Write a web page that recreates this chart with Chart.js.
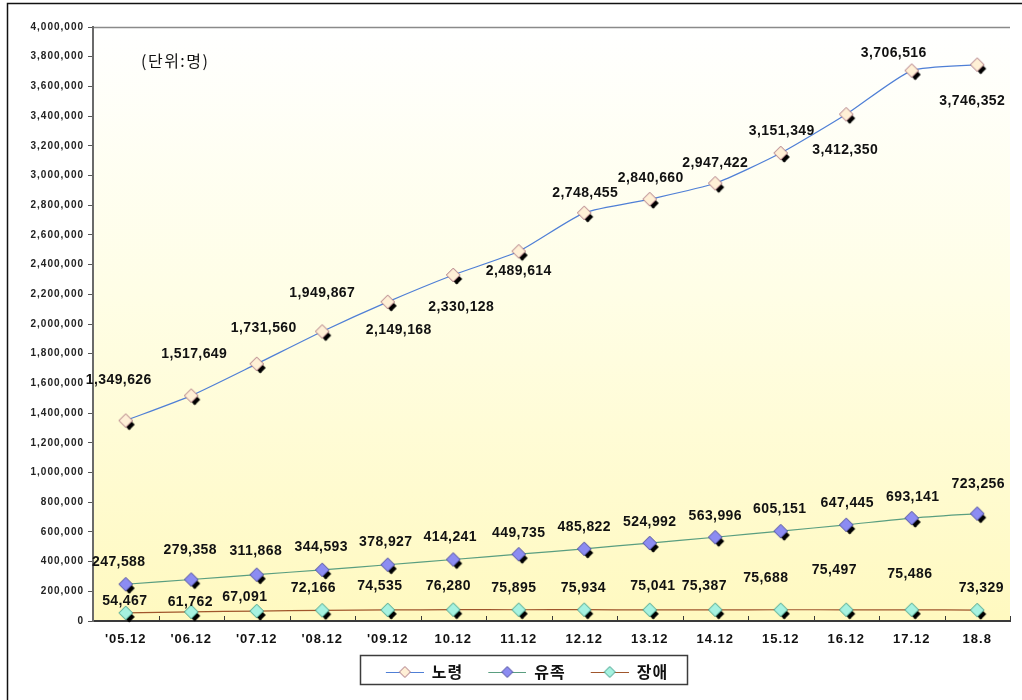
<!DOCTYPE html>
<html>
<head>
<meta charset="utf-8">
<script src="https://cdn.jsdelivr.net/npm/chart.js@4.4.1/dist/chart.umd.min.js"></script>
<style>
  html, body { margin: 0; padding: 0; background: #ffffff; }
  #wrap { position: relative; width: 1022px; height: 700px; }
</style>
</head>
<body>
<div id="wrap"><canvas id="c" width="1022" height="700"></canvas></div>
<script>
// ---- data ----
const categories = ["'05.12", "'06.12", "'07.12", "'08.12", "'09.12", "10.12", "11.12",
                    "12.12", "13.12", "14.12", "15.12", "16.12", "17.12", "18.8"];
const seriesNames = ['노령', '유족', '장애'];
const elderly   = [1349626, 1517649, 1731560, 1949867, 2149168, 2330128, 2489614,
                   2748455, 2840660, 2947422, 3151349, 3412350, 3706516, 3746352];
const survivor  = [247588, 279358, 311868, 344593, 378927, 414241, 449735,
                   485822, 524992, 563996, 605151, 647445, 693141, 723256];
const disability = [54467, 61762, 67091, 72166, 74535, 76280, 75895,
                    75934, 75041, 75387, 75688, 75497, 75486, 73329];
const yTickLabels = ['0', '200,000', '400,000', '600,000', '800,000', '1,000,000',
                     '1,200,000', '1,400,000', '1,600,000', '1,800,000', '2,000,000',
                     '2,200,000', '2,400,000', '2,600,000', '2,800,000', '3,000,000',
                     '3,200,000', '3,400,000', '3,600,000', '3,800,000', '4,000,000'];
const unitNote = '(단위:명)';

// ---- styling ----
const NUM_FONT = "'Liberation Sans', Arial, 'Noto Sans CJK KR', sans-serif";
const KR_FONT = "'Noto Sans CJK KR', 'Liberation Sans', sans-serif";
const seriesStyle = [
  { line: '#4f7fd6', fill: '#fff0d6', edge: '#a8707c' },
  { line: '#5a9e80', fill: '#8c8cf2', edge: '#4a4a9a' },
  { line: '#a0562c', fill: '#a6f2e0', edge: '#3f9c88' }
];

// label placement, in pixels from each marker [dx, dy]
const labelShift = [
  [[-7,-40],[3,-41],[7,-36],[0,-38],[11,28],[8,32],[0,20],[1,-20],[1,-21],[0,-20],[1,-22],[-1,36],[-18,-17],[-5,36]],
  [[-7,-22],[-1,-29],[-1,-24],[-1,-23],[-2,-23],[-3,-22],[0,-21],[0,-22],[0,-21],[0,-21],[-1,-22],[1,-22],[1,-21],[1,-29]],
  [[-1,-12],[-1,-10],[-12,-14],[-9,-22],[-8,-24],[-5,-24],[-5,-22],[-1,-22],[3,-24],[-11,-24],[-15,-32],[-12,-40],[-2,-36],[4,-22]]
];

function diamond(ctx, cx, cy, r) {
  ctx.beginPath();
  ctx.moveTo(cx, cy - r);
  ctx.lineTo(cx + r, cy);
  ctx.lineTo(cx, cy + r);
  ctx.lineTo(cx - r, cy);
  ctx.closePath();
}

// marker: colored diamond with a dark drop diamond behind it
function makeMarker(st) {
  const cv = document.createElement('canvas');
  cv.width = 26; cv.height = 26;
  const g = cv.getContext('2d');
  diamond(g, 16.5, 17, 5.5);
  g.fillStyle = '#000000';
  g.fill();
  g.fillRect(15.5, 17, 2, 5);
  diamond(g, 13, 13, 6.8);
  g.fillStyle = st.fill;
  g.fill();
  g.lineWidth = 1;
  g.strokeStyle = st.edge;
  g.stroke();
  return cv;
}

// legend symbol: short line with diamond in the middle (left 12px kept empty as a gap)
const SYMBOL_GAP = 12;
function makeLegendSymbol(st) {
  const cv = document.createElement('canvas');
  cv.width = 50; cv.height = 14;
  const g = cv.getContext('2d');
  g.strokeStyle = st.line;
  g.lineWidth = 1.2;
  g.beginPath();
  g.moveTo(SYMBOL_GAP, 7.5); g.lineTo(50, 7.5);
  g.stroke();
  diamond(g, SYMBOL_GAP + 19, 7, 5.5);
  g.fillStyle = st.fill;
  g.fill();
  g.lineWidth = 1;
  g.strokeStyle = st.edge;
  g.stroke();
  return cv;
}

const markers = seriesStyle.map(makeMarker);
const legendSymbols = seriesStyle.map(makeLegendSymbol);
const seriesValues = [elderly, survivor, disability];

const datasets = seriesValues.map((vals, i) => ({
  label: seriesNames[i],
  data: vals,
  borderColor: seriesStyle[i].line,
  borderWidth: 1.2,
  tension: 0.2,
  pointStyle: markers[i],
  pointRadius: 7,
  clip: false,
  order: i
}));

const LEGEND_SHIFT = 13;
const LEGEND_FONT_SIZE = 16;

const chartDecor = {
  id: 'chartDecor',
  afterUpdate(chart) {
    const lg = chart.legend;
    if (lg) { lg.left += LEGEND_SHIFT; lg.right += LEGEND_SHIFT; }
  },
  beforeDraw(chart) {
    const { ctx, chartArea: a } = chart;
    ctx.save();
    // outer frame
    ctx.strokeStyle = '#111111';
    ctx.lineWidth = 1.5;
    ctx.strokeRect(7.5, 3.5, 1100, 800);
    // plot background
    const grad = ctx.createLinearGradient(0, a.top, 0, a.bottom);
    grad.addColorStop(0, '#ffffff');
    grad.addColorStop(0.45, '#fffee6');
    grad.addColorStop(1, '#fff9c0');
    ctx.fillStyle = grad;
    ctx.fillRect(a.left, a.top, a.right - a.left, a.bottom - a.top);
    // top edge of plot area
    ctx.strokeStyle = '#8a8a8a';
    ctx.lineWidth = 1.5;
    ctx.beginPath();
    ctx.moveTo(a.left, a.top + 0.5);
    ctx.lineTo(a.right, a.top + 0.5);
    ctx.stroke();
    ctx.restore();
    ctx.letterSpacing = '1px';
  },
  beforeDatasetsDraw(chart) {
    const { ctx, chartArea: a, scales: { x } } = chart;
    ctx.letterSpacing = '0px';
    // inward tick marks between categories
    const step = x.getPixelForValue(1) - x.getPixelForValue(0);
    const start = x.getPixelForValue(0) - step / 2;
    ctx.save();
    ctx.strokeStyle = '#3a3a3a';
    ctx.lineWidth = 1;
    ctx.beginPath();
    for (let i = 1; i <= categories.length; i++) {
      const px = Math.round(start + i * step) + 0.5;
      ctx.moveTo(px, a.bottom);
      ctx.lineTo(px, a.bottom - 5);
    }
    ctx.stroke();
    // legend frame
    const lg = chart.legend;
    if (lg && lg.lineWidths) {
      const pad = lg.options.labels.padding;
      const rowW = lg.lineWidths[0];
      const rowStart = (lg.left + pad + lg.right - rowW) / 2;
      const rowEnd = rowStart + rowW - pad;
      const cy = lg.top + pad + LEGEND_FONT_SIZE / 2;
      ctx.strokeStyle = '#3c3c3c';
      ctx.lineWidth = 1.5;
      const fx = Math.round(rowStart + SYMBOL_GAP - 26) + 0.5;
      ctx.strokeRect(fx, Math.round(cy - 17) + 0.5,
                     Math.round(rowEnd + 25 - fx), 29);
    }
    ctx.restore();
  },
  afterDatasetsDraw(chart) {
    const { ctx } = chart;
    ctx.save();
    ctx.letterSpacing = '0.4px';
    ctx.fillStyle = '#111111';
    ctx.font = 'bold 14px ' + NUM_FONT;
    ctx.textAlign = 'center';
    ctx.textBaseline = 'middle';
    seriesValues.forEach((vals, s) => {
      const meta = chart.getDatasetMeta(s);
      meta.data.forEach((pt, i) => {
        const [dx, dy] = labelShift[s][i];
        ctx.fillText(vals[i].toLocaleString('en-US'), pt.x + dx, pt.y + dy);
      });
    });
    // unit note
    ctx.letterSpacing = '1.5px';
    ctx.font = '16px ' + KR_FONT;
    ctx.textAlign = 'left';
    ctx.fillStyle = '#111111';
    ctx.fillText(unitNote, 141, 61);
    ctx.restore();
  }
};

new Chart(document.getElementById('c'), {
  type: 'line',
  data: { labels: categories, datasets },
  plugins: [chartDecor],
  options: {
    responsive: false,
    animation: false,
    devicePixelRatio: 1,
    events: [],
    layout: { padding: { left: 0, top: 27, right: 12, bottom: 19 } },
    plugins: {
      tooltip: { enabled: false },
      title: { display: false },
      legend: {
        position: 'bottom',
        maxHeight: 30,
        labels: {
          usePointStyle: true,
          pointStyleWidth: 50,
          padding: 13,
          color: '#111111',
          font: { family: KR_FONT, size: LEGEND_FONT_SIZE, weight: 'bold' },
          generateLabels: (chart) => chart.data.datasets.map((ds, i) => ({
            text: ds.label,
            pointStyle: legendSymbols[i],
            fillStyle: 'transparent',
            strokeStyle: 'transparent',
            lineWidth: 0,
            hidden: false,
            datasetIndex: i,
            fontColor: '#111111'
          }))
        }
      }
    },
    scales: {
      x: {
        type: 'category',
        offset: true,
        grid: { display: false, drawTicks: false },
        border: { color: '#3a3a3a', width: 2 },
        ticks: {
          autoSkip: false,
          maxRotation: 0,
          padding: 11,
          color: '#111111',
          font: { family: NUM_FONT, size: 13, weight: 'bold' }
        },
        afterFit(scale) { scale.height = 30; }
      },
      y: {
        min: 0,
        max: 4000000,
        grid: { display: true, drawOnChartArea: false, drawTicks: true, tickLength: 5, color: '#555555' },
        border: { color: '#6a6a6a', width: 2 },
        ticks: {
          stepSize: 200000,
          padding: 4,
          color: '#222222',
          font: { family: NUM_FONT, size: 10, weight: 'bold' },
          callback: (v, i) => yTickLabels[i]
        },
        afterFit(scale) { scale.width = 93; }
      }
    }
  }
});
</script>
</body>
</html>
